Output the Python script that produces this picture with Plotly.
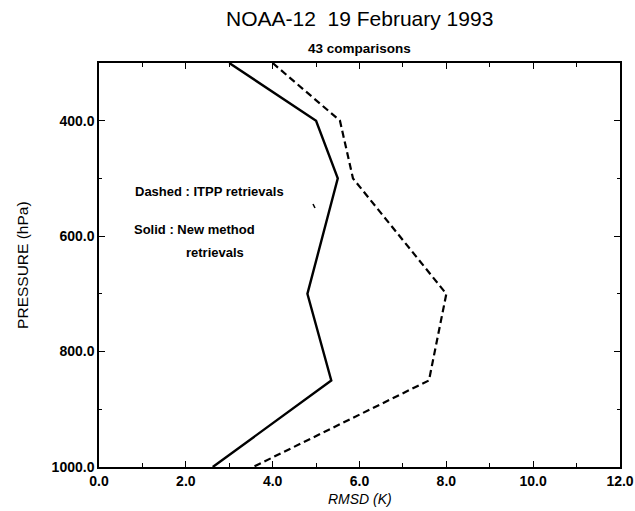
import plotly.graph_objects as go

# ---- data ----
pressure = [300, 400, 500, 700, 850, 1000]          # hPa
rmsd_new = [3.0, 5.0, 5.5, 4.8, 5.35, 2.62]          # solid: new method
rmsd_itpp = [4.0, 5.55, 5.85, 8.0, 7.6, 3.55]        # dashed: ITPP
x_ticks = [0, 2, 4, 6, 8, 10, 12]
y_ticks = [400, 600, 800, 1000]

title_text = "NOAA-12&nbsp; 19 February 1993"
subtitle_text = "43 comparisons"

FONT = "Liberation Sans, Arial, Helvetica, sans-serif"

fig = go.Figure()
fig.add_trace(go.Scatter(x=rmsd_itpp, y=pressure, mode="lines",
                         line=dict(color="black", width=2.2, dash="7px,4px"),
                         showlegend=False, hoverinfo="skip"))
fig.add_trace(go.Scatter(x=rmsd_new, y=pressure, mode="lines",
                         line=dict(color="black", width=2.4),
                         showlegend=False, hoverinfo="skip"))

axis_common = dict(showgrid=False, zeroline=False, showline=True, automargin=False,
                   linecolor="black", linewidth=1.5, mirror="allticks",
                   ticks="inside", tickcolor="black", tickwidth=1.2,
                   tickfont=dict(family=FONT, size=14, color="black", weight="bold"))

fig.update_xaxes(range=[0, 12], tickvals=x_ticks,
                 ticktext=[f"{v:.1f}" for v in x_ticks], ticklen=6,
                 minor=dict(ticks="inside", dtick=1, tick0=0, ticklen=4,
                            tickcolor="black", tickwidth=1.2),
                 **axis_common)
fig.update_yaxes(range=[1000, 300], tickvals=y_ticks,
                 ticktext=[f"{v:.1f}" for v in y_ticks], ticklen=6,
                 minor=dict(ticks="inside", dtick=100, tick0=0, ticklen=3,
                            tickcolor="black", tickwidth=1.2),
                 **axis_common)

annots = [
    dict(text=title_text, x=0.5, y=1.111, font=dict(size=21, family=FONT)),
    dict(text=subtitle_text, x=0.5, y=1.036, font=dict(size=13.5, family=FONT, weight="bold")),
    dict(text="RMSD (K)", x=0.5, y=-0.08, font=dict(size=14, family=FONT, style="italic")),
    dict(text="PRESSURE (hPa)", x=-0.148, y=0.5, textangle=-90, font=dict(size=15.5, family=FONT)),
    dict(text="Dashed : ITPP retrievals", x=0.065, y=0.681, xanchor="left",
         font=dict(size=13, family=FONT, weight="bold")),
    dict(text="Solid : New method", x=0.063, y=0.587, xanchor="left",
         font=dict(size=13, family=FONT, weight="bold")),
    dict(text="retrievals", x=0.163, y=0.532, xanchor="left",
         font=dict(size=13, family=FONT, weight="bold")),
]
for a in annots:
    a.setdefault("xanchor", "center")
    fig.add_annotation(xref="paper", yref="paper", showarrow=False,
                       yanchor="middle", **a)

# small stray mark present in the scanned original
fig.add_shape(type="line", xref="paper", yref="paper",
              x0=(313 - 99) / 521, y0=1 - (204 - 63) / 404,
              x1=(315 - 99) / 521, y1=1 - (208 - 63) / 404,
              line=dict(color="black", width=1.5))

fig.update_layout(width=635, height=511, margin=dict(l=99, r=15, t=63, b=44),
                  plot_bgcolor="white", paper_bgcolor="white",
                  font=dict(family=FONT, color="black"))

fig.write_html("out.html")
